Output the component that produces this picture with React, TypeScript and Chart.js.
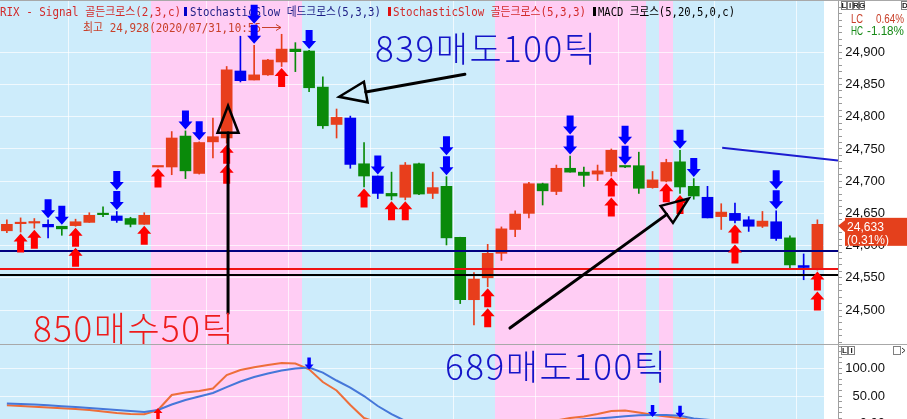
import React, { useEffect, useRef } from 'react';
import { Chart, registerables } from 'chart.js';

Chart.register(...registerables);

// ---------------- data ----------------
const barLabels: string[] = Array.from({ length: 61 }, (_, i) => String(i + 1));

const openP = [
  24623, 24634, 24635, 24633, 24630, 24631, 24636, 24648, 24646, 24642,
  24633, 24722, 24722, 24770, 24712, 24761, 24767, 24871, 24857, 24865,
  24885, 24905, 24902, 24846, 24788, 24798, 24727, 24708, 24681, 24675,
  24727, 24681, 24692, 24613, 24516, 24550, 24588, 24625, 24650, 24696,
  24684, 24720, 24714, 24711, 24715, 24722, 24724, 24690, 24700, 24730,
  24692, 24675, 24645, 24650, 24640, 24630, 24637, 24612, 24569, 24565,
];
const highP = [
  24640, 24643, 24642, 24640, 24630, 24641, 24651, 24660, 24653, 24644,
  24651, 24722, 24777, 24778, 24761, 24798, 24878, 24925, 24911, 24889,
  24928, 24915, 24903, 24862, 24812, 24801, 24760, 24708, 24714, 24729,
  24728, 24714, 24707, 24613, 24558, 24602, 24629, 24654, 24698, 24697,
  24725, 24739, 24722, 24725, 24750, 24723, 24745, 24715, 24734, 24748,
  24704, 24692, 24665, 24666, 24645, 24653, 24654, 24615, 24587, 24640,
];
const lowP = [
  24620, 24621, 24627, 24612, 24616, 24630, 24636, 24645, 24636, 24629,
  24633, 24722, 24710, 24704, 24711, 24736, 24759, 24854, 24857, 24864,
  24878, 24870, 24839, 24782, 24767, 24720, 24691, 24673, 24671, 24671,
  24679, 24673, 24601, 24510, 24477, 24536, 24577, 24614, 24643, 24663,
  24679, 24714, 24692, 24701, 24708, 24721, 24681, 24689, 24699, 24681,
  24672, 24643, 24625, 24635, 24622, 24628, 24608, 24565, 24547, 24562,
];
const closeP = [
  24633, 24635, 24635, 24629, 24626, 24637, 24647, 24648, 24639, 24633,
  24647, 24722, 24767, 24716, 24760, 24769, 24873, 24856, 24865, 24888,
  24905, 24901, 24845, 24786, 24799, 24726, 24708, 24681, 24677, 24725,
  24680, 24690, 24612, 24516, 24548, 24588, 24626, 24649, 24696, 24685,
  24720, 24714, 24709, 24716, 24748, 24722, 24689, 24702, 24729, 24691,
  24677, 24643, 24652, 24639, 24630, 24638, 24611, 24570, 24566, 24633,
];
// R = red up, B = blue down, G = green (signal coloured)
const candleKind = [
  'R', 'R', 'R', 'B', 'G', 'R', 'R', 'G', 'B', 'G',
  'R', 'R', 'R', 'G', 'R', 'R', 'R', 'B', 'R', 'R',
  'R', 'G', 'G', 'G', 'R', 'B', 'G', 'B', 'G', 'R',
  'G', 'R', 'G', 'G', 'R', 'R', 'R', 'R', 'R', 'G',
  'R', 'G', 'G', 'R', 'R', 'G', 'G', 'R', 'R', 'G',
  'G', 'B', 'R', 'B', 'B', 'R', 'B', 'G', 'B', 'R',
];

// [bar index, number of stacked signals]
const buySignals = [[1, 1], [2, 1], [5, 2], [10, 1], [11, 1], [16, 2], [20, 1], [26, 1], [28, 1], [29, 1], [35, 2], [44, 2], [48, 1], [49, 1], [53, 2], [59, 2]];
const sellSignals = [[3, 1], [4, 1], [8, 2], [13, 1], [14, 1], [18, 2], [22, 1], [27, 1], [32, 2], [41, 2], [45, 2], [49, 1], [50, 1], [56, 2]];

const levelValues = [24592, 24564, 24555];
const trendStart = [52.07, 24752];
const trendEnd = [60.5, 24732];
const annotTails = [[16.1, 24495], [33.34, 24866], [36.62, 24472]];
const annotTips = [[16.1, 24817], [24.19, 24831], [49.63, 24673]];

const slowK = [
  33.2, 32, 30.5, 29.1, 28, 26.5, 24.7, 22, 19.3, 17.5,
  17, 24.7, 51.8, 56.3, 59, 63.5, 87.9, 97, 101.8, 106,
  109.6, 108.7, 98.2, 75.3, 60, 33.8, 10.3, 2, 0, 0,
  0, 0, 0, 0, 0, 0, 1, 2, 3, 5,
  6, 10.3, 13, 17.5, 22.9, 23.8, 20.2, 16.2, 13, 10.3,
  6, 4, 3, 2, 2, 1, 1, 0, 0, 2,
];
const slowD = [
  36.5, 35.6, 34.5, 33.4, 31.6, 30.1, 28.3, 26.5, 24.7, 22.9,
  21.1, 24.7, 34.7, 42.8, 49.1, 55.4, 66.2, 76.2, 84.3, 90.6,
  96, 99.6, 101.4, 92.4, 78, 65.3, 50, 32, 17.5, 5,
  2, 1, 0, 0, 0, 0, 0, 1, 2, 3,
  4, 6, 8, 9.4, 11.2, 13.4, 15.2, 15.7, 15.7, 14.3,
  9.4, 7, 5, 4, 3, 2, 2, 1, 1, 1,
];
const stochBuy = [11];
const stochSell = [22, 47, 49];

const pinkBars = [11, 12, 13, 14, 15, 16, 17, 18, 19, 20, 21, 36, 37, 38, 39, 40, 41, 42, 43, 44, 45, 46, 48];
const sessionBreaks = [5, 15, 21, 27, 33, 39, 45, 52, 58];
const priceLabels = [24500, 24550, 24600, 24650, 24700, 24750, 24800, 24850, 24900];
const oscLabels = [0, 50, 100];
const PRICE_MIN = 24445.7;
const PRICE_MAX = 24981.2;
const OSC_MIN = -2.3;
const OSC_MAX = 142.1;

// ---------------- styles ----------------
const KIND_COLOR: Record<string, string> = { R: '#e83e1c', B: '#0000f0', G: '#0a8a0a' };
const BAND_BLUE = '#cdecfb';
const BAND_PINK = '#ffcdf4';
const GRID_LIGHT = 'rgba(255,255,255,0.7)';
const AXIS_FONT = { family: '"Liberation Sans", Arial, sans-serif', size: 13 };
const BIG_FONT = '300 35px "Noto Sans CJK KR", sans-serif';
const AXIS_W = 47;
const AXIS_PAD_RIGHT = 22;

function drawBands(chart: any) {
  const { ctx, chartArea: a, scales } = chart;
  const x = scales.x;
  const n = barLabels.length;
  const w = (a.right - a.left) / n;
  ctx.save();
  for (let i = 0; i < n; i++) {
    const cx = x.getPixelForValue(i);
    const l = Math.round(cx - w / 2);
    const r = Math.round(cx + w / 2);
    ctx.fillStyle = i >= closeP.length ? '#ffffff' : pinkBars.includes(i) ? BAND_PINK : BAND_BLUE;
    ctx.fillRect(l, a.top, r - l, a.bottom - a.top);
  }
  ctx.restore();
}

function signalArrow(ctx: CanvasRenderingContext2D, x: number, tip: number, up: boolean, w: number, h: number, head: number, shaft: number) {
  const d = up ? 1 : -1;
  ctx.beginPath();
  ctx.moveTo(x, tip);
  ctx.lineTo(x + w / 2, tip + d * head);
  ctx.lineTo(x + shaft / 2, tip + d * head);
  ctx.lineTo(x + shaft / 2, tip + d * h);
  ctx.lineTo(x - shaft / 2, tip + d * h);
  ctx.lineTo(x - shaft / 2, tip + d * head);
  ctx.lineTo(x - w / 2, tip + d * head);
  ctx.closePath();
  ctx.fill();
}

function hollowArrow(ctx: CanvasRenderingContext2D, x1: number, y1: number, x2: number, y2: number) {
  const ang = Math.atan2(y2 - y1, x2 - x1);
  const c = Math.cos(ang);
  const s = Math.sin(ang);
  const L = 27;
  const W = 10.5;
  const bx = x2 - L * c;
  const by = y2 - L * s;
  ctx.strokeStyle = '#000';
  ctx.lineWidth = 3;
  ctx.lineCap = 'round';
  ctx.beginPath();
  ctx.moveTo(x1, y1);
  ctx.lineTo(bx, by);
  ctx.stroke();
  ctx.lineWidth = 2.5;
  ctx.lineJoin = 'miter';
  ctx.beginPath();
  ctx.moveTo(x2, y2);
  ctx.lineTo(bx - W * s, by + W * c);
  ctx.lineTo(bx + W * s, by - W * c);
  ctx.closePath();
  ctx.stroke();
}

function bigText(ctx: CanvasRenderingContext2D, text: string, x: number, y: number, color: string) {
  ctx.save();
  ctx.font = BIG_FONT;
  (ctx as any).letterSpacing = '1.5px';
  ctx.textBaseline = 'alphabetic';
  ctx.textAlign = 'left';
  ctx.fillStyle = color;
  ctx.fillText(text, x, y);
  ctx.restore();
}

function boxLetters(ctx: CanvasRenderingContext2D, x0: number, y0: number, letters: string[], w: number, h: number) {
  ctx.save();
  ctx.strokeStyle = '#808080';
  ctx.lineWidth = 1;
  ctx.fillStyle = '#222';
  ctx.font = 'bold 8px "Liberation Sans", sans-serif';
  ctx.textAlign = 'center';
  ctx.textBaseline = 'middle';
  letters.forEach((L, k) => {
    const x = x0 + k * w;
    ctx.strokeRect(x + 0.5, y0 + 0.5, w - 1, h - 1);
    ctx.fillText(L, x + w / 2, y0 + h / 2 + 0.5);
  });
  ctx.restore();
}

function xScale() {
  return {
    type: 'category' as const,
    offset: true,
    grid: {
      offset: true,
      drawTicks: false,
      lineWidth: 1,
      color: (c: any) => (sessionBreaks.includes(c.index) ? GRID_LIGHT : 'rgba(0,0,0,0)'),
    },
    border: { display: false },
    ticks: { display: false },
    afterFit: (s: any) => {
      s.height = 0;
      s.paddingLeft = 0;
      s.paddingRight = 0;
    },
  };
}

function yScale(min: number, max: number, tickValues: number[], isLabel: (v: number) => boolean, fmt: (v: number) => string, isGrid: (v: number) => boolean) {
  return {
    position: 'right',
    min,
    max,
    afterBuildTicks: (s: any) => {
      s.ticks = tickValues.map((v) => ({ value: v }));
    },
    ticks: {
      autoSkip: false,
      padding: 7,
      crossAlign: 'far',
      color: '#111',
      font: AXIS_FONT,
      callback: (v: any) => (isLabel(Number(v)) ? fmt(Number(v)) : ''),
    },
    grid: {
      color: (c: any) => (c.tick && isGrid(c.tick.value) ? GRID_LIGHT : 'rgba(0,0,0,0)'),
      tickColor: '#9a9a9a',
      tickLength: 4,
    },
    border: { color: '#a0a0a0' },
    afterFit: (s: any) => {
      s.width = AXIS_W;
      s.paddingTop = 0;
      s.paddingBottom = 0;
    },
  };
}

const mainPlugin = {
  id: 'mainOverlay',
  beforeDraw(chart: any) {
    drawBands(chart);
  },
  beforeDatasetsDraw(chart: any) {
    const ctx: CanvasRenderingContext2D = chart.ctx;
    ctx.save();
    ctx.textBaseline = 'alphabetic';
    ctx.textAlign = 'left';
    ctx.font = '12.5px "DejaVu Sans Mono", "Noto Sans CJK KR", monospace';
    ctx.fillStyle = '#d22b2b';
    ctx.fillText('RIX - Signal 골든크로스(2,3,c)', 0, 16, 181);
    ctx.fillStyle = '#0000c8';
    ctx.fillRect(184, 7, 3, 9);
    ctx.fillStyle = '#1c1c84';
    ctx.fillText('StochasticSlow 데드크로스(5,3,3)', 190, 16, 191);
    ctx.fillStyle = '#e01010';
    ctx.fillRect(388, 7, 3, 9);
    ctx.fillStyle = '#d22b2b';
    ctx.fillText('StochasticSlow 골든크로스(5,3,3)', 393, 16, 193);
    ctx.fillStyle = '#000';
    ctx.fillRect(593, 7, 3, 9);
    ctx.fillText('MACD 크로스(5,20,5,0,c)', 598, 16, 137);
    ctx.fillStyle = '#c8402a';
    ctx.fillText('최고 24,928(2020/07/31,10:55', 83, 31.5, 178);
    ctx.strokeStyle = '#c8402a';
    ctx.lineWidth = 1;
    ctx.beginPath();
    ctx.moveTo(262, 27.5);
    ctx.lineTo(281, 27.5);
    ctx.moveTo(276, 24.5);
    ctx.lineTo(281, 27.5);
    ctx.lineTo(276, 30.5);
    ctx.stroke();
    ctx.restore();
  },
  afterDatasetsDraw(chart: any) {
    const { ctx, chartArea: a, scales } = chart;
    const x = scales.x;
    const y = scales.y;
    ctx.save();
    ctx.beginPath();
    ctx.rect(a.left, a.top, a.right - a.left, a.bottom - a.top);
    ctx.clip();

    const levelColors = ['#000080', '#f01414', '#000000'];
    levelValues.forEach((v, k) => {
      const py = Math.round(y.getPixelForValue(v));
      ctx.fillStyle = levelColors[k];
      ctx.fillRect(a.left, py - 1, a.right - a.left, 2);
    });

    ctx.strokeStyle = '#1c1cd0';
    ctx.lineWidth = 2;
    ctx.beginPath();
    ctx.moveTo(x.getPixelForValue(trendStart[0]), y.getPixelForValue(trendStart[1]));
    ctx.lineTo(x.getPixelForValue(trendEnd[0]), y.getPixelForValue(trendEnd[1]));
    ctx.stroke();

    ctx.fillStyle = '#ff0000';
    buySignals.forEach(([i, n]) => {
      const px = x.getPixelForValue(i);
      let tip = y.getPixelForValue(lowP[i]) + 1.5;
      for (let k = 0; k < n; k++) {
        signalArrow(ctx, px, tip, true, 14, 19, 8, 7);
        tip += 20;
      }
    });
    ctx.fillStyle = '#0000ff';
    sellSignals.forEach(([i, n]) => {
      const px = x.getPixelForValue(i);
      let tip = y.getPixelForValue(highP[i]) - 1.5;
      for (let k = 0; k < n; k++) {
        signalArrow(ctx, px, tip, false, 14, 19, 8, 7);
        tip -= 20;
      }
    });

    annotTails.forEach((t, k) => {
      const p = annotTips[k];
      hollowArrow(ctx, x.getPixelForValue(t[0]), y.getPixelForValue(t[1]), x.getPixelForValue(p[0]), y.getPixelForValue(p[1]));
    });

    bigText(ctx, '839매도100틱', 375, 62, '#1515c8');
    bigText(ctx, '850매수50틱', 33, 342, '#ee1c1c');
    ctx.restore();
  },
  afterDraw(chart: any) {
    const { ctx, chartArea: a, scales } = chart;
    const y = scales.y;
    const W = chart.width;
    ctx.save();
    ctx.fillStyle = '#a8a8a8';
    ctx.fillRect(0, chart.height - 1, W, 1);
    ctx.fillRect(0, 0, W, 1);

    // current price tag
    const last = closeP[closeP.length - 1];
    const py = y.getPixelForValue(last);
    ctx.fillStyle = '#e4401c';
    ctx.beginPath();
    ctx.moveTo(a.right, py + 1.5);
    ctx.lineTo(a.right + 7, py - 4);
    ctx.lineTo(a.right + 7, py + 8);
    ctx.closePath();
    ctx.fill();
    ctx.fillRect(a.right + 7, py - 6.5, W - a.right - 7, 28);
    ctx.fillStyle = '#ffffff';
    ctx.font = '13px "Liberation Sans", sans-serif';
    ctx.textAlign = 'left';
    ctx.textBaseline = 'alphabetic';
    ctx.fillText(last.toLocaleString('en-US'), a.right + 9, py + 6.5, 37);
    ctx.fillText('(0.31%)', a.right + 9, py + 19.5, 42);

    // header of price axis
    boxLetters(ctx, a.right + 3, 1, ['L', 'I', 'R', 'G'], 6, 9);
    boxLetters(ctx, W - 6, 1, ['D'], 8, 9);
    ctx.font = '12px "Liberation Sans", sans-serif';
    ctx.textBaseline = 'alphabetic';
    ctx.fillStyle = '#c8402a';
    ctx.textAlign = 'left';
    ctx.fillText('LC', a.right + 13, 23, 12);
    ctx.textAlign = 'right';
    ctx.fillText('0.64%', W - 3, 23, 28);
    ctx.fillStyle = '#178a17';
    ctx.textAlign = 'left';
    ctx.fillText('HC', a.right + 13, 35, 12);
    ctx.textAlign = 'right';
    ctx.fillText('-1.18%', W - 3, 35, 37);
    ctx.restore();
  },
};

const subPlugin = {
  id: 'subOverlay',
  beforeDraw(chart: any) {
    drawBands(chart);
  },
  afterDatasetsDraw(chart: any) {
    const { ctx, chartArea: a, scales } = chart;
    const x = scales.x;
    const y = scales.y;
    ctx.save();
    ctx.beginPath();
    ctx.rect(a.left, a.top, a.right - a.left, a.bottom - a.top);
    ctx.clip();
    ctx.fillStyle = '#ff0000';
    stochBuy.forEach((i) => {
      signalArrow(ctx, x.getPixelForValue(i), y.getPixelForValue(slowD[i]) - 2, true, 9, 12, 5, 3.5);
    });
    ctx.fillStyle = '#0000ff';
    stochSell.forEach((i) => {
      signalArrow(ctx, x.getPixelForValue(i), y.getPixelForValue(slowD[i]) + 2, false, 9, 12, 5, 3.5);
    });
    bigText(ctx, '689매도100틱', 445, 35, '#1515c8');
    ctx.restore();
  },
  afterDraw(chart: any) {
    const { ctx, chartArea: a } = chart;
    const W = chart.width;
    boxLetters(ctx, a.right + 3, 1, ['L', 'I'], 7, 9);
    boxLetters(ctx, W - 14, 1, [' '], 8, 9);
    ctx.save();
    ctx.strokeStyle = '#333';
    ctx.lineWidth = 1;
    ctx.beginPath();
    ctx.moveTo(W - 5, 3);
    ctx.lineTo(W - 2, 5.5);
    ctx.lineTo(W - 5, 8);
    ctx.stroke();
    ctx.restore();
  },
};

export default function App() {
  const mainRef = useRef<HTMLCanvasElement>(null);
  const subRef = useRef<HTMLCanvasElement>(null);

  useEffect(() => {
    const kindColors = candleKind.map((k) => KIND_COLOR[k]);
    const priceTicks: number[] = [];
    for (let v = 24450; v <= 24980; v += 10) priceTicks.push(v);
    const oscTicks: number[] = [];
    for (let v = 0; v <= 140; v += 10) oscTicks.push(v);

    const common = {
      animation: false,
      responsive: false,
      maintainAspectRatio: false,
      devicePixelRatio: 1,
      events: [],
      layout: { padding: { left: 0, top: 0, bottom: 0, right: AXIS_PAD_RIGHT } },
      plugins: { legend: { display: false }, tooltip: { enabled: false } },
    };

    const main = new Chart(mainRef.current as HTMLCanvasElement, {
      type: 'bar',
      data: {
        labels: barLabels,
        datasets: [
          {
            label: 'wick',
            data: lowP.map((l, i) => [l, highP[i]]) as any,
            backgroundColor: kindColors,
            barThickness: 1,
            grouped: false,
            order: 2,
          } as any,
          {
            label: 'body',
            data: openP.map((o, i) => [o, closeP[i]]) as any,
            backgroundColor: kindColors,
            barThickness: 11,
            minBarLength: 1.5,
            grouped: false,
            order: 1,
          } as any,
        ],
      },
      options: {
        ...(common as any),
        scales: {
          x: xScale() as any,
          y: yScale(
            PRICE_MIN,
            PRICE_MAX,
            priceTicks,
            (v) => priceLabels.includes(v),
            (v) => v.toLocaleString('en-US'),
            (v) => priceLabels.includes(v),
          ) as any,
        },
      },
      plugins: [mainPlugin],
    });

    const sub = new Chart(subRef.current as HTMLCanvasElement, {
      type: 'line',
      data: {
        labels: barLabels,
        datasets: [
          { label: 'Slow %K', data: slowK, borderColor: '#ee6e3a', borderWidth: 2, pointRadius: 0, tension: 0, order: 2 },
          { label: 'Slow %D', data: slowD, borderColor: '#4677d9', borderWidth: 2, pointRadius: 0, tension: 0, order: 1 },
        ],
      },
      options: {
        ...(common as any),
        scales: {
          x: xScale() as any,
          y: yScale(
            OSC_MIN,
            OSC_MAX,
            oscTicks,
            (v) => oscLabels.includes(v),
            (v) => v.toFixed(2),
            (v) => v === 50 || v === 100,
          ) as any,
        },
      },
      plugins: [subPlugin],
    });

    return () => {
      main.destroy();
      sub.destroy();
    };
  }, []);

  return (
    <div style={{ position: 'fixed', left: 0, top: 0, width: 907, height: 419, overflow: 'hidden', background: '#ffffff' }}>
      <canvas ref={mainRef} width={907} height={345} style={{ position: 'absolute', left: 0, top: 0, width: 907, height: 345 }} />
      <canvas ref={subRef} width={907} height={80} style={{ position: 'absolute', left: 0, top: 345, width: 907, height: 80 }} />
    </div>
  );
}
